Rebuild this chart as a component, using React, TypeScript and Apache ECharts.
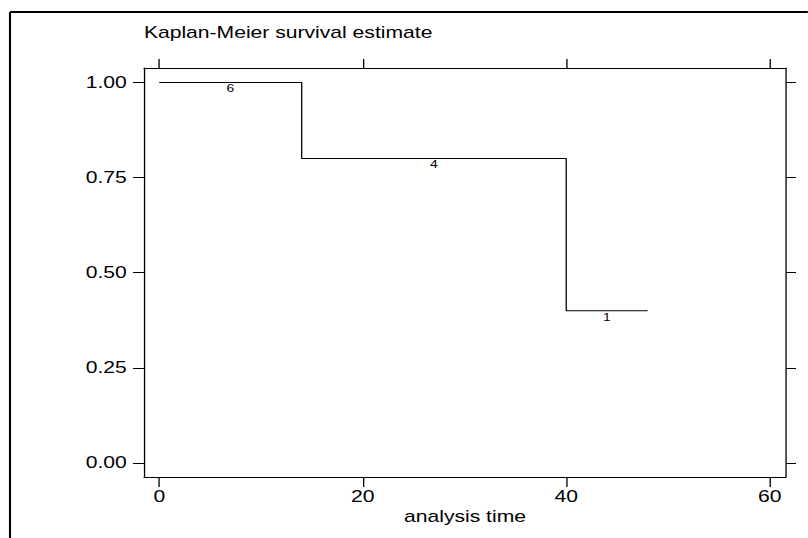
import React, { useEffect, useRef } from "react";
import * as echarts from "echarts";

// Kaplan-Meier step data
const times = [0, 14, 40, 48];
const survival = [1, 0.8, 0.4, 0.4];

// number-at-risk labels
const riskTimes = [7, 27, 44];
const riskSurv = [1, 0.8, 0.4];
const riskN = [6, 4, 1];

const xTicks = [0, 20, 40, 60];
const yTicks = [0, 0.25, 0.5, 0.75, 1];

const S = 1.32; // horizontal stretch of the reference
const W = 808 / S;
const H = 538;
const FONT = "'Liberation Sans', Arial, Helvetica, sans-serif";

export default function App() {
  const ref = useRef<HTMLDivElement>(null);
  useEffect(() => {
    if (!ref.current) return;
    const chart = echarts.init(ref.current, undefined, { renderer: "svg", width: W, height: H });
    const line = { lineStyle: { color: "#000", width: 1 } };
    chart.setOption({
      animation: false,
      backgroundColor: "#fff",
      title: {
        text: "Kaplan-Meier survival estimate",
        left: 109,
        top: 24,
        padding: 0,
        textStyle: { fontFamily: FONT, fontSize: 16, fontWeight: "normal", color: "#000" },
      },
      graphic: [
        { type: "line", shape: { x1: 10 / S, y1: 12, x2: W + 10, y2: 12 }, style: { stroke: "#000", lineWidth: 2 } },
        { type: "line", shape: { x1: 10 / S, y1: 12, x2: 10 / S, y2: H + 10 }, style: { stroke: "#000", lineWidth: 1.6 } },
      ],
      grid: { left: 144 / S, right: W - 786 / S, top: 68, bottom: H - 477, show: false },
      xAxis: [
        {
          type: "value",
          position: "bottom",
          min: -1.5,
          max: 61.6,
          name: "analysis time",
          nameLocation: "middle",
          nameGap: 27,
          nameTextStyle: { fontFamily: FONT, fontSize: 16, color: "#000" },
          axisLine: { show: true, onZero: false, ...line },
          axisTick: { show: true, length: 10, inside: false, customValues: xTicks, ...line },
          axisLabel: { show: true, margin: 11, customValues: xTicks, fontFamily: FONT, fontSize: 16, color: "#000" },
          splitLine: { show: false },
        },
        {
          type: "value",
          position: "top",
          min: -1.5,
          max: 61.6,
          axisLine: { show: true, onZero: false, ...line },
          axisTick: { show: true, length: 9, inside: false, customValues: xTicks, ...line },
          axisLabel: { show: false },
          splitLine: { show: false },
        },
      ],
      yAxis: [
        {
          type: "value",
          position: "left",
          min: -0.037,
          max: 1.038,
          axisLine: { show: true, onZero: false, ...line },
          axisTick: { show: true, length: 11 / S, inside: false, customValues: yTicks, ...line },
          axisLabel: {
            show: true,
            margin: 13,
            customValues: yTicks,
            formatter: (v: number) => v.toFixed(2),
            fontFamily: FONT,
            fontSize: 16,
            color: "#000",
          },
          splitLine: { show: false },
        },
        {
          type: "value",
          position: "right",
          min: -0.037,
          max: 1.038,
          axisLine: { show: true, onZero: false, ...line },
          axisTick: { show: true, length: 10 / S, inside: false, customValues: yTicks, ...line },
          axisLabel: { show: false },
          splitLine: { show: false },
        },
      ],
      series: [
        {
          type: "line",
          step: "end",
          data: times.map((t, i) => [t, survival[i]]),
          symbol: "none",
          lineStyle: { color: "#000", width: 1 },
          itemStyle: { color: "#000" },
          xAxisIndex: 0,
          yAxisIndex: 0,
        },
        {
          type: "scatter",
          data: riskTimes.map((t, i) => [t, riskSurv[i], riskN[i]]),
          symbolSize: 0,
          itemStyle: { color: "#000", opacity: 0 },
          label: {
            show: true,
            position: "bottom",
            distance: 1,
            formatter: (p: any) => String(p.value[2]),
            fontFamily: FONT,
            fontSize: 10.5,
            color: "#000",
            opacity: 1,
            textBorderWidth: 0,
          },
          xAxisIndex: 0,
          yAxisIndex: 0,
        },
      ],
    });
    return () => chart.dispose();
  }, []);
  return (
    <div
      ref={ref}
      style={{
        position: "absolute",
        left: 0,
        top: 0,
        width: W,
        height: H,
        transform: `scaleX(${S})`,
        transformOrigin: "0 0",
        background: "#fff",
      }}
    />
  );
}
